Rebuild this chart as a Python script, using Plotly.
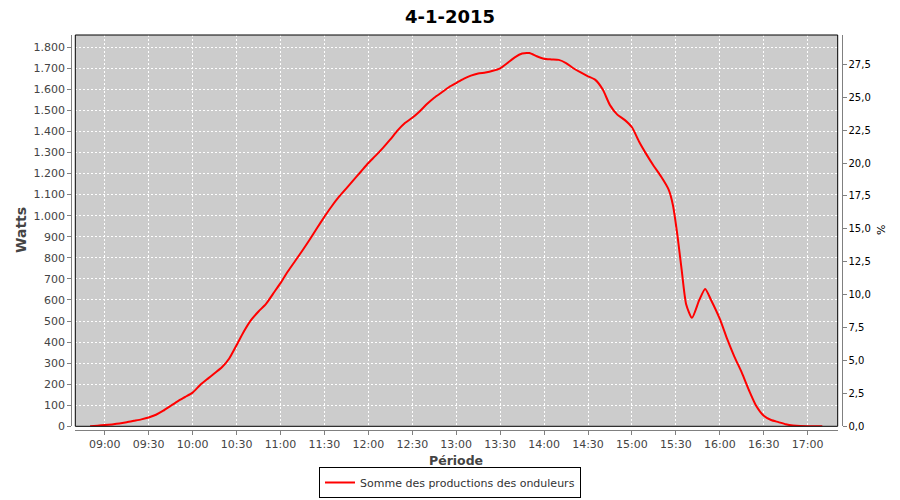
import plotly.graph_objects as go

# ---- data ----
DAY = "2015-01-04 "
times = ["08:50", "08:55", "09:00", "09:05", "09:10", "09:15", "09:20", "09:25", "09:30", "09:35",
         "09:40", "09:45", "09:50", "09:55", "10:00", "10:05", "10:10", "10:15", "10:20", "10:25",
         "10:30", "10:35", "10:40", "10:45", "10:50", "10:55", "11:00", "11:05", "11:10", "11:15",
         "11:20", "11:25", "11:30", "11:35", "11:40", "11:45", "11:50", "11:55", "12:00", "12:05",
         "12:10", "12:15", "12:20", "12:25", "12:30", "12:35", "12:40", "12:45", "12:50", "12:55",
         "13:00", "13:05", "13:10", "13:15", "13:20", "13:25", "13:30", "13:35", "13:40", "13:45",
         "13:50", "13:55", "14:00", "14:05", "14:10", "14:15", "14:20", "14:25", "14:30", "14:35",
         "14:40", "14:45", "14:50", "14:55", "15:00", "15:05", "15:10", "15:15", "15:20", "15:25",
         "15:28", "15:31", "15:34", "15:37", "15:41", "15:46", "15:50", "15:54", "16:00", "16:05",
         "16:10", "16:15", "16:20", "16:25", "16:30", "16:35", "16:40", "16:45", "16:50", "16:55",
         "17:00", "17:05", "17:10"]
watts = [0, 3, 6, 9, 13, 19, 26, 33, 42, 55,
         74, 97, 120, 140, 160, 195, 224, 252, 280, 322,
         385, 450, 505, 545, 580, 630, 680, 735, 785, 835,
         887, 942, 995, 1045, 1090, 1130, 1170, 1210, 1250, 1285,
         1322, 1362, 1405, 1440, 1465, 1495, 1530, 1560, 1585, 1610,
         1630, 1650, 1665, 1675, 1680, 1688, 1700, 1725, 1752, 1770,
         1772, 1757, 1745, 1742, 1740, 1725, 1700, 1680, 1662, 1645,
         1600, 1525, 1480, 1455, 1420, 1350, 1290, 1235, 1185, 1125,
         1050, 910, 740, 580, 515, 600, 652, 600, 510, 415,
         330, 255, 170, 95, 50, 30, 20, 10, 4, 1,
         0, 0, 0]

title_text = "4-1-2015"
series_name = "Somme des productions des onduleurs"
left_title = "Watts"
right_title = "%"
x_title = "Période"
left_ticks = list(range(0, 1801, 100))
right_ticks = [0.0, 2.5, 5.0, 7.5, 10.0, 12.5, 15.0, 17.5, 20.0, 22.5, 25.0, 27.5]

# ---- layout geometry (pixels) ----
W, H = 900, 500
ML, MR, MT, MB = 20, 20, 20, 50
pw, ph = W - ML - MR, H - MT - MB
px_left, px_right = 75.3, 837.7
py_top, py_bot = 35.0, 426.3

def fx(px):
    return (px - ML) / pw

def fy(py):
    return (H - MB - py) / ph

x = [DAY + t for t in times]

fig = go.Figure()
fig.add_trace(go.Scatter(
    x=x, y=watts, mode="lines", name=series_name,
    line=dict(color="#ff0000", width=2, shape="spline", smoothing=0.6),
    yaxis="y", xaxis="x", hoverinfo="x+y"))
# invisible trace so the right axis is drawn
fig.add_trace(go.Scatter(x=[x[0]], y=[None], yaxis="y2", showlegend=False,
                         mode="lines", hoverinfo="skip"))

tick_font = dict(family="DejaVu Sans", size=11, color="#444444")
grid = dict(showgrid=True, gridcolor="#ffffff", gridwidth=1, griddash="2px,2px")

fig.update_layout(
    width=W, height=H,
    margin=dict(l=ML, r=MR, t=MT, b=MB, autoexpand=False),
    paper_bgcolor="#ffffff",
    plot_bgcolor="#cccccc",
    separators=",.",
    title=dict(text="<b>" + title_text + "</b>", x=0.5, xanchor="center",
               xref="container", y=1 - 16.5 / H, yanchor="middle", yref="container",
               font=dict(family="DejaVu Sans", size=18, color="#000000")),
    xaxis=dict(
        type="date",
        domain=[fx(px_left), fx(px_right)],
        anchor="free", position=fy(429.5),
        range=[DAY + "08:39:54", DAY + "17:20:30"],
        tickformat="%H:%M", dtick=1800000, tick0=DAY + "09:00",
        showline=True, linecolor="#808080", linewidth=1,
        ticks="outside", ticklen=4, tickcolor="#808080",
        tickfont=tick_font, zeroline=False, **grid),
    yaxis=dict(
        domain=[fy(py_bot), fy(py_top)],
        anchor="free", position=fx(71.3),
        range=[0, 1858], tickmode="array", tickvals=left_ticks, tickformat=",d",
        showline=True, linecolor="#808080", linewidth=1,
        ticks="outside", ticklen=4, tickcolor="#808080",
        tickfont=tick_font, zeroline=False, **grid),
    yaxis2=dict(
        overlaying="y", side="right",
        anchor="free", position=fx(841.5),
        range=[0, 29.73], tickmode="array", tickvals=right_ticks, tickformat=".1f",
        showline=True, linecolor="#808080", linewidth=1,
        ticks="outside", ticklen=4, tickcolor="#808080",
        tickfont=dict(family="DejaVu Sans", size=10, color="#000000"),
        showgrid=False, zeroline=False),
    legend=dict(
        orientation="h", x=0.5, xanchor="center", xref="container",
        y=1 - 498 / H, yanchor="bottom", yref="container",
        bordercolor="#000000", borderwidth=1, bgcolor="#ffffff",
        font=dict(family="DejaVu Sans", size=11, color="#333333"),
        itemwidth=30, tracegroupgap=0, valign="middle"),
    showlegend=True,
    shapes=[dict(type="rect", xref="x domain", yref="y domain", x0=0, x1=1, y0=0, y1=1,
                 line=dict(color="#000000", width=1), fillcolor="rgba(0,0,0,0)", layer="above")],
    annotations=[
        dict(text="<b>" + left_title + "</b>", x=fx(21), y=fy(230), xref="paper", yref="paper",
             textangle=-90, showarrow=False, xanchor="center", yanchor="middle",
             font=dict(family="DejaVu Sans", size=14, color="#444444")),
        dict(text=right_title, x=fx(881), y=fy(230), xref="paper", yref="paper",
             textangle=-90, showarrow=False, xanchor="center", yanchor="middle",
             font=dict(family="DejaVu Sans", size=11, color="#000000")),
        dict(text="<b>" + x_title + "</b>", x=fx(456), y=fy(460), xref="paper", yref="paper",
             showarrow=False, xanchor="center", yanchor="middle",
             font=dict(family="DejaVu Sans", size=12.5, color="#444444")),
    ],
)

fig.write_html("out.html", config={"displayModeBar": False},
               post_script="document.body.style.margin='0';document.body.style.overflow='hidden';")
